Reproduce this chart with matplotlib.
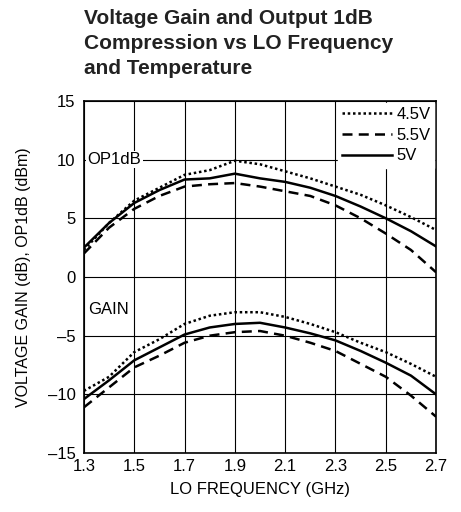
import matplotlib; matplotlib.use('Agg')
from matplotlib import pyplot as plt
import numpy as np

plt.rcParams['font.family'] = ['Liberation Sans Narrow', 'Liberation Sans', 'DejaVu Sans']

freq = [1.3, 1.4, 1.5, 1.6, 1.7, 1.8, 1.9, 2.0, 2.1, 2.2, 2.3, 2.4, 2.5, 2.6, 2.7]

# OP1dB (dBm)
op1db_45 = [2.3, 4.6, 6.5, 7.6, 8.7, 9.1, 9.9, 9.6, 9.0, 8.4, 7.7, 7.0, 6.1, 5.1, 4.0]
op1db_55 = [2.0, 4.2, 5.8, 6.9, 7.7, 7.9, 8.0, 7.7, 7.3, 6.9, 6.1, 5.0, 3.7, 2.3, 0.4]
op1db_5 = [2.5, 4.6, 6.3, 7.4, 8.3, 8.4, 8.8, 8.4, 8.1, 7.6, 6.9, 6.0, 5.0, 3.9, 2.6]

# voltage gain (dB)
gain_45 = [-9.7, -8.5, -6.4, -5.3, -4.0, -3.3, -3.0, -3.0, -3.4, -4.0, -4.7, -5.6, -6.4, -7.4, -8.5]
gain_55 = [-11.1, -9.4, -7.7, -6.7, -5.6, -5.0, -4.7, -4.6, -5.0, -5.6, -6.3, -7.4, -8.5, -10.1, -11.9]
gain_5 = [-10.4, -8.8, -7.1, -6.0, -4.9, -4.3, -4.0, -3.9, -4.3, -4.8, -5.4, -6.3, -7.3, -8.4, -10.0]

xticks = [1.3, 1.5, 1.7, 1.9, 2.1, 2.3, 2.5, 2.7]
yticks = [-15, -10, -5, 0, 5, 10, 15]

fig = plt.figure(figsize=(4.61, 5.12), dpi=100)
ax = fig.add_axes([0.182, 0.115, 0.764, 0.688])

ax.plot(freq, op1db_45, color='black', lw=1.8, ls=(0, (1, 1.1)), label='4.5V')
ax.plot(freq, op1db_55, color='black', lw=1.8, ls=(0, (4, 2.5)), label='5.5V')
ax.plot(freq, op1db_5, color='black', lw=1.8, ls='-', label='5V')
ax.plot(freq, gain_45, color='black', lw=1.8, ls=(0, (1, 1.1)))
ax.plot(freq, gain_55, color='black', lw=1.8, ls=(0, (4, 2.5)))
ax.plot(freq, gain_5, color='black', lw=1.8, ls='-')

ax.set_xlim(1.3, 2.7)
ax.set_ylim(-15, 15)
ax.set_xticks(xticks)
ax.set_yticks(yticks)
ax.set_xticklabels(['%.1f' % v for v in xticks])
ax.set_yticklabels([('\u2013%d' % -v) if v < 0 else '%d' % v for v in yticks])
ax.tick_params(length=0, labelsize=12)
ax.tick_params(axis='y', pad=6)
ax.tick_params(axis='x', pad=4)
ax.grid(True, color='black', lw=0.8)
ax.set_axisbelow(True)
for s in ax.spines.values():
    s.set_linewidth(1.2)

ax.set_xlabel('LO FREQUENCY (GHz)', fontsize=12, labelpad=6)
ax.set_ylabel('VOLTAGE GAIN (dB), OP1dB (dBm)', fontsize=11.5, labelpad=12)

ax.text(1.315, 10, 'OP1dB', fontsize=12, va='center', ha='left',
        bbox=dict(facecolor='white', edgecolor='none', pad=1))
ax.text(1.315, -2.8, 'GAIN', fontsize=12, va='center', ha='left',
        bbox=dict(facecolor='white', edgecolor='none', pad=1))

leg = ax.legend(loc='upper right', fontsize=12, frameon=True, fancybox=False,
                handlelength=3.0, handletextpad=0.25, labelspacing=0.35,
                borderpad=0.25, borderaxespad=0.1)
leg.get_frame().set_edgecolor('white')
leg.get_frame().set_alpha(1)

fig.text(0.182, 0.982, 'Voltage Gain and Output 1dB\nCompression vs LO Frequency\nand Temperature',
         fontsize=15, fontweight='bold', va='top', ha='left', linespacing=1.4, color='#222222')

plt.savefig('out.png', dpi=100)
